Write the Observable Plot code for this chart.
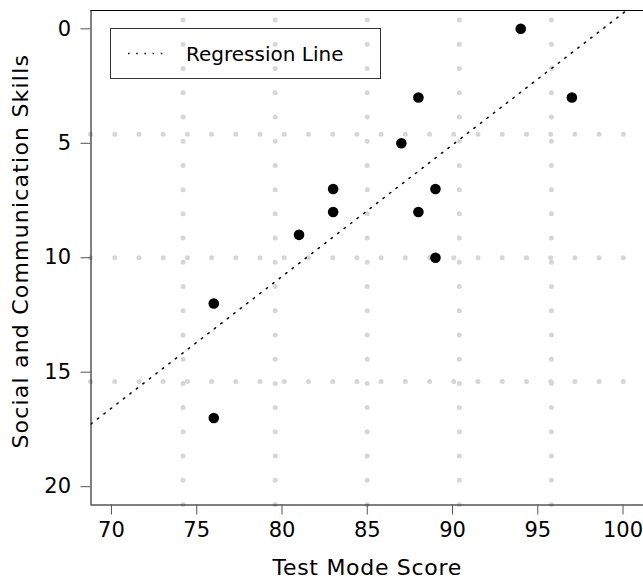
<!DOCTYPE html>
<html><head><meta charset="utf-8">
<script src="https://cdn.jsdelivr.net/npm/d3@7"></script>
<script src="https://cdn.jsdelivr.net/npm/@observablehq/plot@0.6"></script>
<style>body{margin:0;background:#fff} svg{display:block}</style>
</head><body><div id="chart"></div>
<script>
const testModeScore = [94, 88, 97, 87, 83, 89, 83, 88, 81, 89, 76, 76];
const socialCommSkills = [0, 3, 3, 5, 7, 7, 8, 8, 9, 10, 12, 17];
const xTicks = [70, 75, 80, 85, 90, 95, 100];
const yTicks = [0, 5, 10, 15, 20];
const xLimits = [70, 100];
const yLimits = [0, 20];
const legendLabel = "Regression Line";
const xLabel = "Test Mode Score";
const yLabel = "Social and Communication Skills";

// R-style 4% axis expansion
const expand = ([a, b]) => [a - (b - a) * 0.04, b + (b - a) * 0.04];
const xDomain = expand(xLimits);
const yDomain = expand(yLimits);

const points = testModeScore.map((x, i) => ({x, y: socialCommSkills[i]}));
const mx = d3.mean(testModeScore), my = d3.mean(socialCommSkills);
const slope = d3.sum(points, d => (d.x - mx) * (d.y - my)) / d3.sum(points, d => (d.x - mx) ** 2);
const intercept = my - slope * mx;
const regLine = xDomain.map(x => ({x, y: intercept + slope * x}));

// grid(6, 4) style: equal divisions of the plot region
const gridX = d3.range(1, 6).map(k => xDomain[0] + k * (xDomain[1] - xDomain[0]) / 6);
const gridY = d3.range(1, 4).map(k => yDomain[0] + k * (yDomain[1] - yDomain[0]) / 4);

const FONT = "DejaVu Sans";
const gridStyle = {stroke: "#d6d6d6", strokeWidth: 5, strokeLinecap: "round", strokeDasharray: "0,24.22"};

const plot = Plot.plot({
  width: 643,
  height: 580,
  marginLeft: 90.5,
  marginRight: 0,
  marginTop: 10,
  marginBottom: 75.5,
  style: {fontFamily: FONT, fontSize: "21px", color: "black", background: "white"},
  x: {domain: xDomain},
  y: {domain: yDomain, reverse: true},
  marks: [
    Plot.ruleX(gridX, {x: d => d, y1: yDomain[1], y2: yDomain[0], ...gridStyle}),
    Plot.ruleY(gridY, {y: d => d, ...gridStyle}),
    Plot.line(regLine, {x: "x", y: "y", stroke: "black", strokeWidth: 1.5, strokeDasharray: "1.5,6.7", clip: true}),
    Plot.dot(points, {x: "x", y: "y", r: 5.3, fill: "black", stroke: "none"}),
    Plot.ruleY([yDomain[0], yDomain[1]], {stroke: "black", strokeWidth: 1}),
    Plot.ruleX([xDomain[0]], {stroke: "black", strokeWidth: 1}),
    Plot.axisX({ticks: xTicks, tickSize: 10, tickPadding: 7, stroke: "#555", label: xLabel,
      labelAnchor: "center", labelArrow: "none", labelOffset: 70}),
    Plot.axisY({ticks: yTicks, tickSize: 10, tickPadding: 10, stroke: "#555", label: yLabel,
      labelAnchor: "center", labelArrow: "none", labelOffset: 79})
  ]
});

const svg = d3.select(plot);
// axis title styling (wider geometric look of the original face)
svg.selectAll('[aria-label="x-axis label"] text').attr("font-size", "22px").attr("letter-spacing", "0.7px");
svg.selectAll('[aria-label="y-axis label"] text').attr("font-size", "22px").attr("letter-spacing", "1.2px")
  .attr("dx", "6.5");

// legend (top-left inside plot region)
const g = svg.append("g").attr("font-family", FONT).attr("font-size", "20px").attr("text-anchor", "start");
g.append("rect").attr("x", 110.5).attr("y", 28.5).attr("width", 270).attr("height", 50)
  .attr("fill", "none").attr("stroke", "#333").attr("stroke-width", 1);
g.append("line").attr("x1", 128).attr("x2", 165).attr("y1", 53.5).attr("y2", 53.5)
  .attr("stroke", "black").attr("stroke-width", 1.5).attr("stroke-dasharray", "1.5,6.7");
g.append("text").attr("x", 186).attr("y", 61).attr("fill", "black").text(legendLabel);

document.getElementById("chart").append(plot);
</script>
</body></html>
